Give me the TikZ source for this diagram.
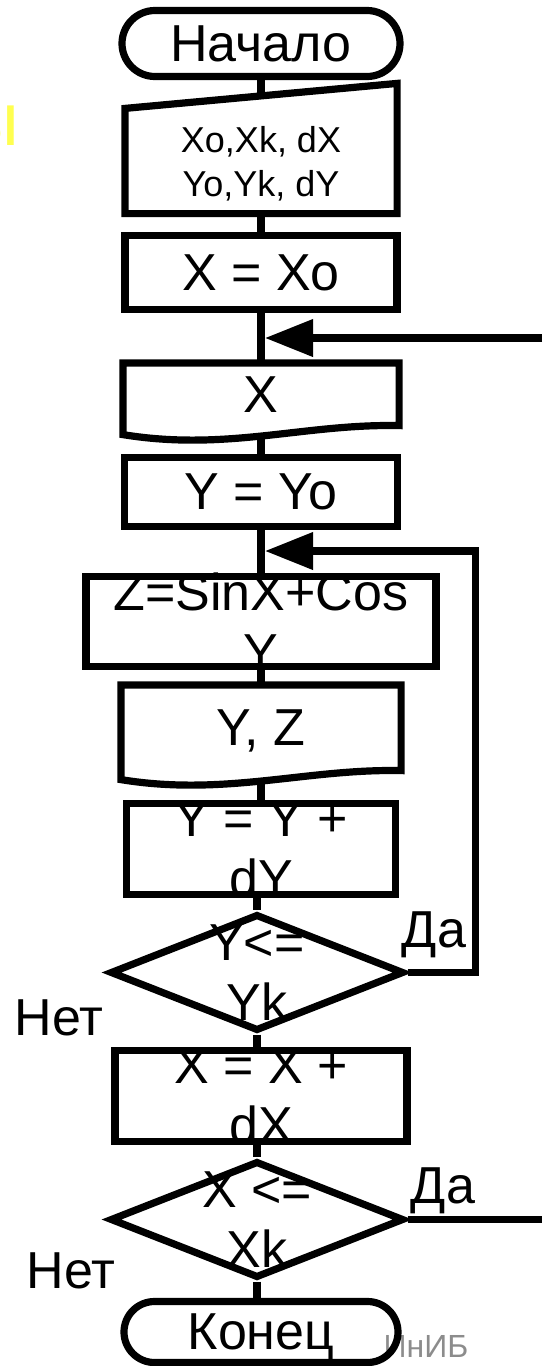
\documentclass[tikz,border=0pt]{standalone}
\usepackage{fontspec}
\setmainfont{Liberation Sans}
\usetikzlibrary{shapes.geometric,arrows.meta}
\definecolor{gelb}{RGB}{255,255,80}
\begin{document}
\begin{tikzpicture}[x=0.5pt,y=-0.5pt,line width=3.6pt,
  >={Triangle[length=24pt,width=18pt]},
  font=\fontsize{26}{30}\selectfont,
  term/.style={draw,rectangle,rounded corners=#1,inner sep=0pt,text depth=0pt},
  box/.style={draw,rectangle,inner sep=0pt,text depth=0pt},
  blank/.style={rectangle,inner sep=0pt,text depth=0pt},
  decision/.style={draw,diamond,inner sep=0pt,minimum width=147pt,minimum height=58.5pt},
  txt/.style={align=center,inner sep=0pt}]
\def\eingabe#1{
	\draw (#1.south west) -- (#1.north west) -- ([yshift=12.5pt]#1.north east) -- (#1.south east) -- cycle;
}
\def\dokument#1{
	\draw (#1.south east) .. controls +(-95,-2) and +(104,17) .. ([yshift=-4.5pt]#1.south west)
		-- (#1.north west) -- (#1.north east) -- cycle;
}
\useasboundingbox (0,0) rectangle (542,1366);
\node (gelbtext) at (23,145) [anchor=base east,inner sep=0pt,text=gelb,font=\fontsize{37.5}{40}\selectfont] {ы};
\node (start) at (261,43.5) [term=16.5pt,minimum width=139pt,minimum height=33pt] {Начало};
\node (inp) at (261,161) [blank,align=center,minimum width=132.5pt,minimum height=49pt,font=\fontsize{18}{22}\selectfont] {Xo,Xk, dX\\Yo,Yk, dY};
\eingabe{inp}
\node (xset) at (261,272.5) [box,minimum width=136pt,minimum height=37pt] {X = Xo};
\node (xout) at (261,394.25) [blank,minimum width=134.5pt,minimum height=27.75pt] {X};
\dokument{xout}
\node (yset) at (261,492) [box,minimum width=136.5pt,minimum height=34.5pt] {Y = Yo};
\node (zcalc) at (261,621.5) [box,minimum width=175pt,minimum height=45pt] {};
\node (zcalct) at (zcalc) [txt] {Z=SinX+Cos\\Y};
\node (yzout) at (261,727.75) [blank,minimum width=136.5pt,minimum height=39.25pt] {Y, Z};
\dokument{yzout}
\node (ystep) at (261,849) [box,minimum width=134.5pt,minimum height=45.5pt] {};
\node (ystept) at (ystep) [txt] {Y = Y +\\dY};
\node (ycheck) at (257,972.5) [decision] {};
\node (ycheckt) at (ycheck) [txt] {Y<=\\Yk};
\node (xstep) at (261,1096) [box,minimum width=146pt,minimum height=45.5pt] {};
\node (xstept) at (xstep) [txt] {X = X +\\dX};
\node (xcheck) at (257,1219.5) [decision] {};
\node (xcheckt) at (xcheck) [txt] {X <=\\Xk};
\node (inib) at (472,1346.5) [anchor=east,inner sep=0pt,text=black!45,font=\fontsize{16}{16}\selectfont] {ИнИБ};
\node (stop) at (261,1332) [term=15.25pt,minimum width=137pt,minimum height=30.5pt] {Конец};
% Beschriftung der Zweige
\node (da1) at (434,947) [anchor=base] {Да};
\node (net1) at (59,1035) [anchor=base] {Нет};
\node (da2) at (443,1203) [anchor=base] {Да};
\node (net2) at (71,1288) [anchor=base] {Нет};
% Verbindungen
\coordinate (back1) at (542,338);
\coordinate (join1) at (265,338);
\coordinate (loop) at (475.5,551);
\coordinate (join2) at (265,551);
\coordinate (back2) at (542,1219.5);
\draw (start.south) -- ([yshift=6.25pt]inp.north);
\draw (inp.south) -- (xset.north);
\draw (xset.south) -- (xout.north);
\draw ([yshift=-5pt]xout.south) -- (yset.north);
\draw (yset.south) -- (zcalc.north);
\draw (zcalc.south) -- (yzout.north);
\draw ([yshift=-5pt]yzout.south) -- (ystep.north);
\draw (ycheck.north |- ystep.south) -- (ycheck.north);
\draw (ycheck.south) -- (ycheck.south |- xstep.north);
\draw (xcheck.north |- xstep.south) -- (xcheck.north);
\draw (xcheck.south) -- (xcheck.south |- stop.north);
\draw[->] (back1) -- (join1);
\draw[->] (ycheck.east) -| (loop) -- (join2);
\draw (xcheck.east) -- (back2);
\end{tikzpicture}
\end{document}
